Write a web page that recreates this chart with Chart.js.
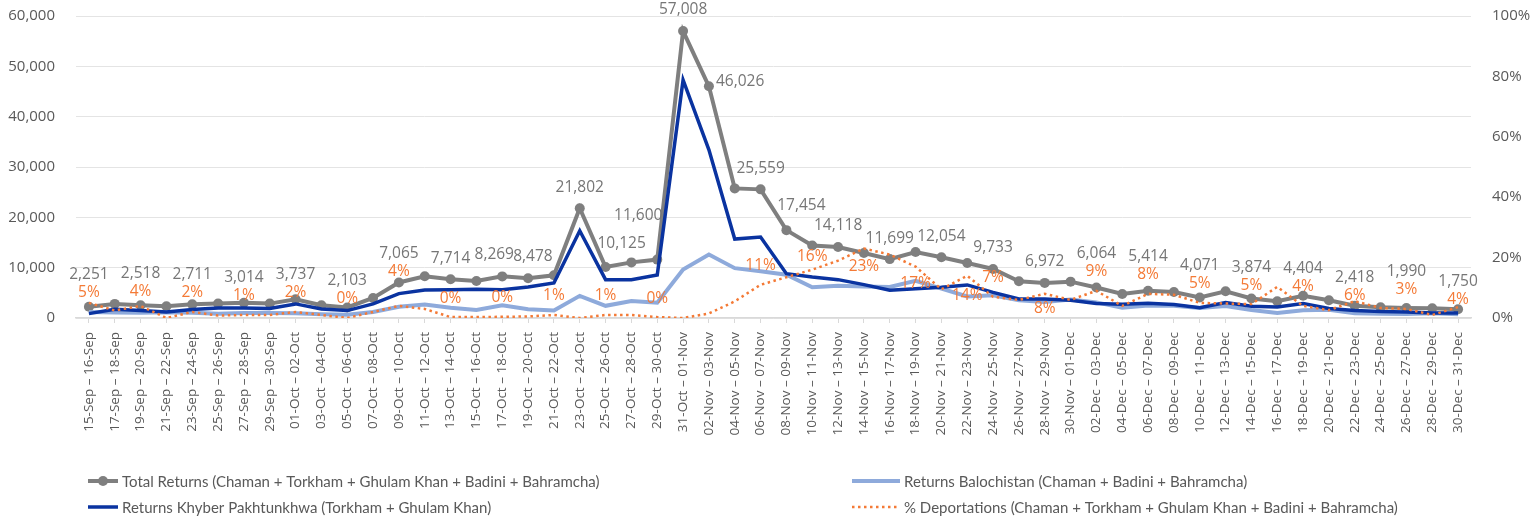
<!DOCTYPE html>
<html><head><meta charset="utf-8">
<script src="https://cdn.jsdelivr.net/npm/chart.js@4.4.0/dist/chart.umd.min.js"></script>
<style>html,body{margin:0;padding:0;background:#fff;}#wrap{position:relative;width:1536px;height:519px;}</style>
</head><body><div id="wrap"><canvas id="c" width="1536" height="519"></canvas></div>
<script>
const categories = [
"15-Sep – 16-Sep","17-Sep – 18-Sep","19-Sep – 20-Sep","21-Sep – 22-Sep","23-Sep – 24-Sep","25-Sep – 26-Sep","27-Sep – 28-Sep","29-Sep – 30-Sep",
"01-Oct – 02-Oct","03-Oct – 04-Oct","05-Oct – 06-Oct","07-Oct – 08-Oct","09-Oct – 10-Oct","11-Oct – 12-Oct","13-Oct – 14-Oct","15-Oct – 16-Oct",
"17-Oct – 18-Oct","19-Oct – 20-Oct","21-Oct – 22-Oct","23-Oct – 24-Oct","25-Oct – 26-Oct","27-Oct – 28-Oct","29-Oct – 30-Oct","31-Oct – 01-Nov",
"02-Nov – 03-Nov","04-Nov – 05-Nov","06-Nov – 07-Nov","08-Nov – 09-Nov","10-Nov – 11-Nov","12-Nov – 13-Nov","14-Nov – 15-Nov","16-Nov – 17-Nov",
"18-Nov – 19-Nov","20-Nov – 21-Nov","22-Nov – 23-Nov","24-Nov – 25-Nov","26-Nov – 27-Nov","28-Nov – 29-Nov","30-Nov – 01-Dec","02-Dec – 03-Dec",
"04-Dec – 05-Dec","06-Dec – 07-Dec","08-Dec – 09-Dec","10-Dec – 11-Dec","12-Dec – 13-Dec","14-Dec – 15-Dec","16-Dec – 17-Dec","18-Dec – 19-Dec",
"20-Dec – 21-Dec","22-Dec – 23-Dec","24-Dec – 25-Dec","26-Dec – 27-Dec","28-Dec – 29-Dec","30-Dec – 31-Dec"];

const totalReturns = [2251,2800,2518,2330,2711,2860,3014,2860,3737,2530,2103,3990,7065,8280,7714,7360,8269,7880,8478,21802,
10125,11050,11600,57008,46026,25750,25559,17454,14420,14118,12910,11699,13110,12054,10930,9733,7290,6972,7220,6064,
4780,5414,5170,4071,5300,3874,3320,4404,3520,2418,2120,1990,1930,1750];

const balochistanReturns = [1200,1070,1050,1120,1040,860,1010,990,940,730,630,1190,2220,2700,2050,1600,2550,1750,1500,4400,
2420,3380,3050,9650,12600,9900,9300,8600,6100,6400,6280,6150,7400,5850,4270,4530,3500,3200,3680,3100,
2030,2480,2420,2000,2400,1600,1000,1540,1650,950,850,790,920,740];

const khyberReturns = [870,1730,1470,1210,1670,2000,2000,1870,2800,1800,1470,2800,4840,5570,5630,5700,5630,6170,6960,17340,
7620,7620,8550,47300,33400,15690,16090,8810,8150,7620,6630,5500,5830,6090,6570,5100,3790,3790,3510,2860,
2720,2920,2660,2060,3060,2330,2200,2860,1870,1470,1270,1200,1010,1010];

const deportationPct = [5,2.5,4,0,2,0.8,1,1,2,1,0,2,4,3,0.3,0.3,0.4,0.5,1,0,
1,1,0.3,0,1.5,5.5,11,13.5,16,19,23,21,17,9.5,14,7,6,8,6,9,
4,8,7.7,5,4.8,4.6,10.3,4,2.6,5.6,3.3,3,1,3.6];

const leftTicks = [0,10000,20000,30000,40000,50000,60000];
const rightTicks = [0,20,40,60,80,100];

const totalLabelIdx = [0,2,4,6,8,10,12,14,16,18,19,20,22,23,24,26,27,29,31,33,35,37,39,41,43,45,47,49,51,53];
const pctLabelIdx = [0,2,4,6,8,10,12,14,16,18,20,22,26,28,30,32,34,35,37,39,41,43,45,47,49,51,53];

const seriesNames = [
  "Total Returns (Chaman + Torkham + Ghulam Khan + Badini + Bahramcha)",
  "Returns Balochistan (Chaman + Badini + Bahramcha)",
  "Returns Khyber Pakhtunkhwa (Torkham + Ghulam Khan)",
  "% Deportations (Chaman + Torkham + Ghulam Khan + Badini + Bahramcha)"
];

const C_GRAY = '#7f7f7f', C_LBLUE = '#8eaadb', C_DBLUE = '#0a33a0', C_ORANGE = '#f47a36';
const TEXT = '#595959';
const NUM_FONT = '"Open Sans", "Noto Sans", sans-serif';
const LEG_FONT = 'Lato, "Open Sans", sans-serif';

// label placement style (Excel-like manual label positions, offsets from the point in px)
const pctLabelDy = {0:-10, 2:-14, 12:-34, 28:-13, 30:18, 32:17, 34:20, 37:15, 49:-6, 53:-8};
const totalLabelShift = {16:[-8,-22], 18:[-21,-19], 20:[16,-23], 22:[-19,-44], 24:['right'], 27:[15,-25]};

const labelPlugin = {
  id: 'dataLabels',
  afterDatasetsDraw(chart) {
    const ctx = chart.ctx;
    const mTot = chart.getDatasetMeta(0);
    const mPct = chart.getDatasetMeta(3);
    ctx.save();
    ctx.font = '15.5px ' + NUM_FONT;
    ctx.textAlign = 'center';
    ctx.textBaseline = 'middle';
    const boxes = [];
    const h = 16;
    pctLabelIdx.forEach(i => {
      const p = mPct.data[i];
      const txt = Math.round(deportationPct[i]) + '%';
      const w = ctx.measureText(txt).width;
      const dy = (i in pctLabelDy) ? pctLabelDy[i] : -19;
      const y = p.y + dy;
      ctx.fillStyle = C_ORANGE;
      ctx.fillText(txt, p.x, y);
      boxes.push({l: p.x - w/2, r: p.x + w/2, t: y - h/2, b: y + h/2});
    });
    totalLabelIdx.forEach(i => {
      const p = mTot.data[i];
      const txt = totalReturns[i].toLocaleString('en-US');
      const w = ctx.measureText(txt).width;
      let x = p.x, y = p.y - 21;
      const s = totalLabelShift[i];
      if (s) {
        if (s[0] === 'right') { x = p.x + 7 + w/2; y = p.y - 5; }
        else { x = p.x + s[0]; y = p.y + s[1]; }
      }
      let moved = true, guard = 0;
      while (moved && guard++ < 10) {
        moved = false;
        for (const b of boxes) {
          if (x + w/2 > b.l && x - w/2 < b.r && y + h/2 > b.t && y - h/2 < b.b) {
            y = b.t - h/2 - 2; moved = true;
          }
        }
      }
      ctx.fillStyle = '#767676';
      ctx.fillText(txt, x, y);
    });
    ctx.restore();
  }
};

const legendPlugin = {
  id: 'customLegend',
  afterDraw(chart) {
    const ctx = chart.ctx;
    ctx.save();
    ctx.font = '15px ' + LEG_FONT;
    ctx.textBaseline = 'middle';
    ctx.textAlign = 'left';
    const items = [
      {x: 88, y: 481, w: 30, color: C_GRAY, lw: 4, marker: true, name: seriesNames[0]},
      {x: 852, y: 481, w: 48, color: C_LBLUE, lw: 4, name: seriesNames[1]},
      {x: 88, y: 507, w: 30, color: C_DBLUE, lw: 3.5, name: seriesNames[2]},
      {x: 852, y: 507, w: 48, color: C_ORANGE, lw: 2.5, dash: [2.5, 3.5], name: seriesNames[3]}
    ];
    items.forEach(it => {
      ctx.beginPath();
      ctx.strokeStyle = it.color;
      ctx.lineWidth = it.lw;
      ctx.setLineDash(it.dash || []);
      ctx.moveTo(it.x, it.y);
      ctx.lineTo(it.x + it.w, it.y);
      ctx.stroke();
      ctx.setLineDash([]);
      if (it.marker) {
        ctx.beginPath();
        ctx.fillStyle = it.color;
        ctx.arc(it.x + it.w/2, it.y, 5, 0, Math.PI * 2);
        ctx.fill();
      }
      ctx.fillStyle = TEXT;
      ctx.fillText(it.name, it.x + it.w + 4, it.y + 1);
    });
    ctx.restore();
  }
};

function build() {
  new Chart(document.getElementById('c'), {
    type: 'line',
    data: {
      labels: categories,
      datasets: [
        {label: seriesNames[0], data: totalReturns, yAxisID: 'y', borderColor: C_GRAY, backgroundColor: C_GRAY,
         borderWidth: 4, pointRadius: 5, pointBackgroundColor: C_GRAY, pointBorderWidth: 0, tension: 0, order: 4},
        {label: seriesNames[1], data: balochistanReturns, yAxisID: 'y', borderColor: C_LBLUE, backgroundColor: C_LBLUE,
         borderWidth: 4, pointRadius: 0, tension: 0, order: 3},
        {label: seriesNames[2], data: khyberReturns, yAxisID: 'y', borderColor: C_DBLUE, backgroundColor: C_DBLUE,
         borderWidth: 3.5, pointRadius: 0, tension: 0, order: 2},
        {label: seriesNames[3], data: deportationPct, yAxisID: 'y1', borderColor: C_ORANGE, backgroundColor: C_ORANGE,
         borderWidth: 2.5, borderDash: [2.5, 3.5], pointRadius: 0, tension: 0, order: 1}
      ]
    },
    options: {
      responsive: false,
      animation: false,
      devicePixelRatio: 1,
      layout: {padding: {top: 16, bottom: 70, left: 0, right: 0}},
      plugins: {legend: {display: false}, tooltip: {enabled: false}},
      scales: {
        x: {
          offset: true,
          grid: {drawOnChartArea: false, drawTicks: true, tickLength: 5, color: '#d9d9d9', offset: false},
          border: {display: true, color: '#d9d9d9', width: 1.5},
          ticks: {autoSkip: false, minRotation: 90, maxRotation: 90, color: TEXT, padding: 9,
                  font: {family: NUM_FONT, size: 13.5}},
          afterFit(s) { s.height = 131; }
        },
        y: {
          position: 'left', min: 0, max: 60000,
          afterBuildTicks(s) { s.ticks = leftTicks.map(v => ({value: v})); },
          ticks: {color: TEXT, padding: 0, font: {family: NUM_FONT, size: 15},
                  callback: v => Number(v).toLocaleString('en-US')},
          grid: {color: '#e4e4e4', drawTicks: true, tickLength: 21, tickColor: 'rgba(0,0,0,0)', lineWidth: 1},
          border: {display: false},
          afterFit(s) { s.width = 76; }
        },
        y1: {
          position: 'right', min: 0, max: 100,
          afterBuildTicks(s) { s.ticks = rightTicks.map(v => ({value: v})); },
          ticks: {color: TEXT, padding: 0, font: {family: NUM_FONT, size: 15}, callback: v => v + '%'},
          grid: {drawOnChartArea: false, drawTicks: true, tickLength: 21, tickColor: 'rgba(0,0,0,0)'},
          border: {display: false},
          afterFit(s) { s.width = 65; }
        }
      }
    },
    plugins: [labelPlugin, legendPlugin]
  });
}
Promise.all([
  document.fonts.load('15px "Open Sans"'),
  document.fonts.load('15px Lato')
]).catch(() => {}).then(build);
</script></body></html>
